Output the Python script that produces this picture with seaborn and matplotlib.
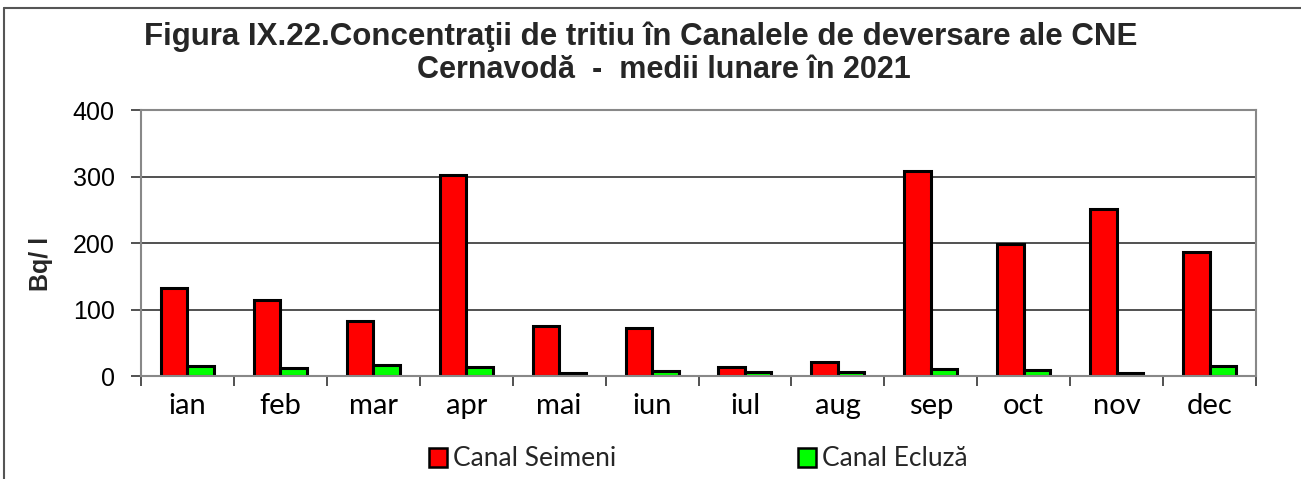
import numpy as np
import pandas as pd
import matplotlib
matplotlib.use("Agg")
import matplotlib.pyplot as plt
import seaborn as sns
from matplotlib.lines import Line2D
from matplotlib.patches import Patch

months = ["ian", "feb", "mar", "apr", "mai", "iun", "iul", "aug", "sep", "oct", "nov", "dec"]
seimeni = [133, 114, 83, 302, 75, 72, 14, 21, 309, 198, 251, 186]
ecluza = [15, 12, 17, 13, 4, 7, 6, 6, 11, 9, 5, 15]
series_names = ["Canal Seimeni", "Canal Ecluză"]
colors = ["#FF0000", "#00FF00"]
yticks = [0, 100, 200, 300, 400]
title_line1 = "Figura IX.22.Concentraţii de tritiu în Canalele de deversare ale CNE"
title_line2 = "Cernavodă  -  medii lunare în 2021"
ylabel = "Bq/ l"

df = pd.DataFrame({
    "luna": months * 2,
    "val": seimeni + ecluza,
    "canal": [series_names[0]] * len(months) + [series_names[1]] * len(months),
})

sns.set_theme(style="white")
plt.rcParams["font.family"] = ["Liberation Sans", "DejaVu Sans"]

W, H = 1301, 479
fig = plt.figure(figsize=(W / 100, H / 100), dpi=100)
ax = fig.add_axes([141 / W, 1 - 376 / H, (1256 - 141) / W, (376 - 110) / H])

sns.barplot(data=df, x="luna", y="val", hue="canal", palette=colors, width=0.57,
            edgecolor="black", linewidth=2.2, ax=ax, legend=False, errorbar=None,
            saturation=1)

ax.set_ylim(0, 400)
ax.set_xlim(-0.5, len(months) - 0.5)
ax.set_yticks(yticks)
ax.set_yticklabels([str(v) for v in yticks], fontsize=18, color="black")
ax.set_xticks(range(len(months)))
ax.set_xticklabels(months, fontsize=21, family=["Lato", "DejaVu Sans"], color="black")
ax.set_xticks(np.arange(-0.5, len(months), 1.0), minor=True)
ax.tick_params(axis="x", which="major", length=0, pad=12)
ax.tick_params(axis="x", which="minor", length=7, width=1.2, color="#333333", direction="out", bottom=True)
ax.tick_params(axis="y", which="major", length=7, width=1.2, color="#333333", direction="out", left=True, pad=12)
ax.set_xlabel("")
ax.set_ylabel("")
ax.yaxis.grid(True, color="#222222", linewidth=1.1)
ax.xaxis.grid(False)
ax.set_axisbelow(True)
for s in ax.spines.values():
    s.set_visible(True)
    s.set_color("#888888")
    s.set_linewidth(1.5)

fig.text(641 / W, 1 - 37 / H, title_line1, ha="center", va="center", fontsize=22.5,
         fontweight="bold")
fig.text(417 / W, 1 - 70 / H, title_line2, ha="left", va="center", fontsize=22,
         fontweight="bold")
fig.text(41 / W, 1 - 264 / H, ylabel, ha="center", va="center", rotation=90,
         fontsize=18, fontweight="bold")

handles = [Patch(facecolor=c, edgecolor="black", linewidth=1.8) for c in colors]
fig.legend(handles, series_names, loc="center", bbox_to_anchor=(698 / W, 20 / H),
           ncol=2, frameon=False, prop={"family": ["Lato", "DejaVu Sans"], "size": 19},
           handlelength=0.7, handleheight=0.7, handletextpad=0.2, columnspacing=6.9)

fig.add_artist(Line2D([4 / W, 4 / W], [0, 1 - 8 / H], transform=fig.transFigure,
                      color="#555555", linewidth=1.5))
fig.add_artist(Line2D([4 / W, 1], [1 - 8 / H, 1 - 8 / H], transform=fig.transFigure,
                      color="#555555", linewidth=1.5))

fig.savefig("out.png", dpi=100, facecolor="white")
